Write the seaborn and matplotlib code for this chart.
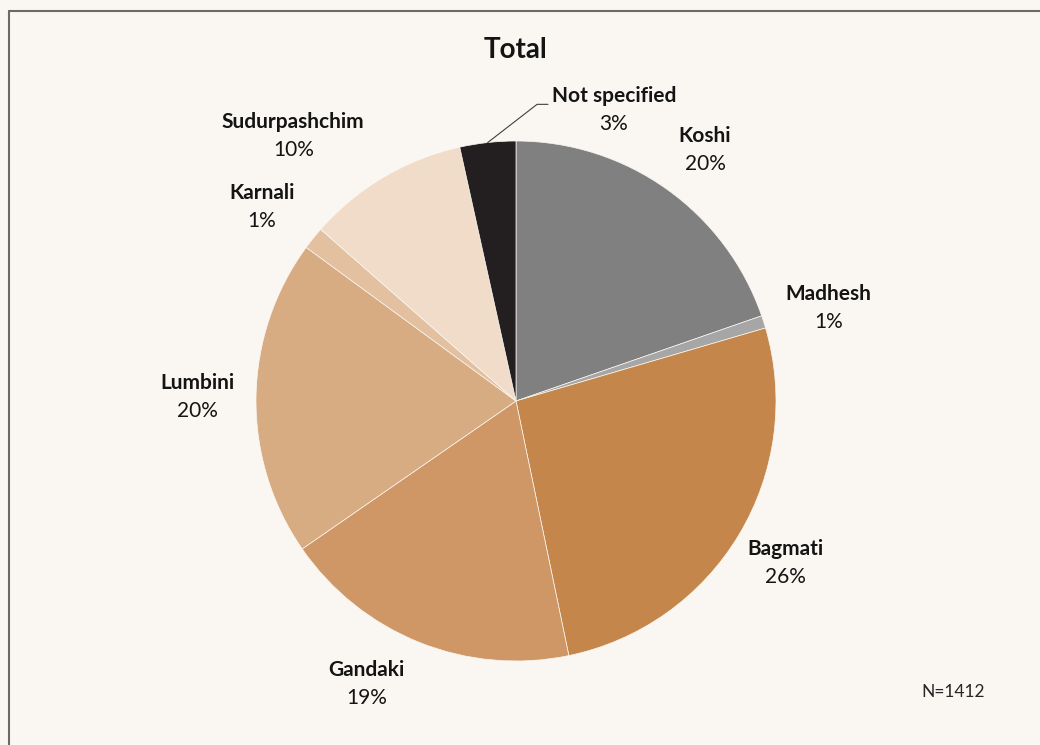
import numpy as np
import matplotlib
matplotlib.use("Agg")
import matplotlib.pyplot as plt
from matplotlib.lines import Line2D
import seaborn as sns

# Respondents by province (N = 1412)
provinces = ["Koshi", "Madhesh", "Bagmati", "Gandaki", "Lumbini",
             "Karnali", "Sudurpashchim", "Not specified"]
counts = [278, 11, 371, 263, 278, 20, 142, 49]
total_n = 1412

colors = ["#808080", "#A6A6A6", "#C4864A", "#D09766", "#D8AC82",
          "#E3C0A0", "#F1DCCA", "#231F20"]

bg = "#FAF7F2"
sns.set_theme(style="white")
plt.rcParams["font.family"] = ["Lato", "DejaVu Sans"]

W, H = 1040, 745
fig = plt.figure(figsize=(W / 100, H / 100), dpi=100, facecolor=bg)

cx, cy, R = 516, 401, 260
ax = fig.add_axes([(cx - R) / W, (H - cy - R) / H, 2 * R / W, 2 * R / H])
ax.set_facecolor(bg)

pal = sns.color_palette(colors)
wedges, _ = ax.pie(counts, colors=pal, startangle=90, counterclock=False,
                   radius=1.0,
                   wedgeprops=dict(edgecolor=bg, linewidth=0.5))
ax.set_xlim(-1, 1)
ax.set_ylim(-1, 1)
ax.set_aspect("equal")
ax.axis("off")

# label placement: radial distance and angular nudge per slice
label_r = {"Koshi": 1.21, "Madhesh": 1.255, "Bagmati": 1.21, "Gandaki": 1.23,
           "Lumbini": 1.227, "Karnali": 1.23, "Sudurpashchim": 1.33}
label_da = {"Gandaki": -6.0, "Karnali": 1.3, "Sudurpashchim": 9.5,
            "Koshi": -1.5, "Madhesh": -1.1}

shares = np.array(counts) / total_n * 100
fs = 15
dy = 14 / R
for w, name, pct in zip(wedges, provinces, shares):
    mid = np.deg2rad((w.theta1 + w.theta2) / 2 + label_da.get(name, 0.0))
    if name == "Not specified":
        lx, ly = 0.377, 1.118
        # leader line from the slice edge to the label
        p0 = (np.cos(mid) * 1.0, np.sin(mid) * 1.0)
        ax.plot([p0[0], 0.081, 0.123], [p0[1], 1.141, 1.141],
                color="#404040", lw=0.8, clip_on=False)
    else:
        r = label_r[name]
        lx, ly = r * np.cos(mid), r * np.sin(mid)
    ax.text(lx, ly + dy, name, ha="center", va="center", fontsize=fs,
            fontweight="bold", color="#141414", clip_on=False)
    ax.text(lx, ly - dy, f"{pct:.0f}%", ha="center", va="center",
            fontsize=fs, color="#141414", clip_on=False)

fig.text(515 / W, 1 - 50 / H, "Total", ha="center", va="center",
         fontsize=20, fontweight="bold", color="#141414")
fig.text(953 / W, 1 - 692 / H, f"N={total_n}", ha="center", va="center",
         fontsize=12.5, color="#262626")

# frame on top and left
fig.add_artist(Line2D([8.5 / W, 1], [1 - 10.5 / H, 1 - 10.5 / H],
                      transform=fig.transFigure, color="#6a6a6a", lw=1.5))
fig.add_artist(Line2D([8.5 / W, 8.5 / W], [0, 1 - 10.5 / H],
                      transform=fig.transFigure, color="#6a6a6a", lw=1.5))

fig.savefig("out.png", dpi=100, facecolor=bg)
